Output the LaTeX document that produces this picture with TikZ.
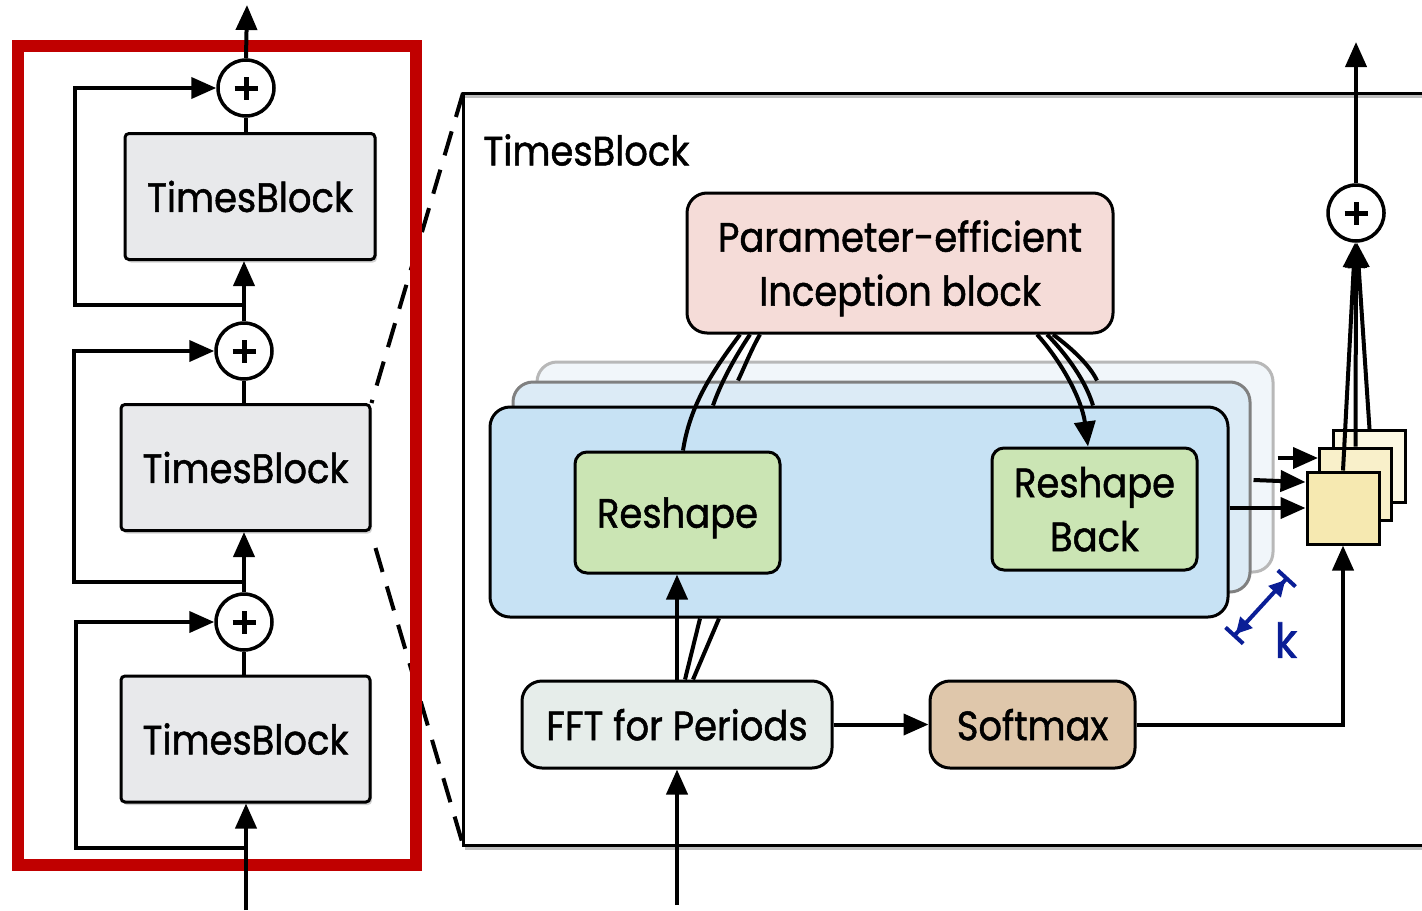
\documentclass[tikz,border=0pt]{standalone}
\usepackage{fontspec}
\setmainfont{Poppins}[FakeStretch=0.9,FakeBold=1.2]
\usetikzlibrary{arrows.meta,calc,shadows}
\definecolor{redc}{HTML}{C00000}
\definecolor{tbgray}{HTML}{E8E9EB}
\definecolor{pinkc}{HTML}{F5DCD8}
\definecolor{blueA}{HTML}{C7E2F4}
\definecolor{blueB}{HTML}{DCEBF6}
\definecolor{blueC}{HTML}{F1F6FA}
\definecolor{greenc}{HTML}{CBE5B4}
\definecolor{fftc}{HTML}{E6EDEA}
\definecolor{softc}{HTML}{DFC7AB}
\definecolor{sqA}{HTML}{F6E9B1}
\definecolor{sqB}{HTML}{F9F0CA}
\definecolor{sqC}{HTML}{FCF8E3}
\definecolor{navyk}{HTML}{0A1E96}
\newcommand\fs{\fontsize{20.5}{27}\selectfont}
\tikzset{
  arr/.style={-{Triangle[length=12.5pt,width=10.5pt]}, line width=2pt},
  ln/.style={line width=2pt},
  tbbox/.style={draw, line width=1.5pt, fill=tbgray, rounded corners=2pt, minimum height=63pt, inner sep=0pt,
    drop shadow={opacity=0.35, shadow xshift=1pt, shadow yshift=-1.5pt}, font=\fs},
  plusc/.style={circle, draw, line width=1.75pt, fill=white, minimum size=28pt, inner sep=0pt,
    path picture={
      \draw[line width=2.5pt] ([xshift=-5.75pt]path picture bounding box.center) -- ([xshift=5.75pt]path picture bounding box.center);
      \draw[line width=2.5pt] ([yshift=-5.75pt]path picture bounding box.center) -- ([yshift=5.75pt]path picture bounding box.center);}},
  blk/.style={rounded corners=10pt, line width=1.5pt, inner sep=0pt, minimum height=105pt},
  rbox/.style={draw, line width=1.5pt, rounded corners=#1, inner sep=0pt, font=\fs, align=center, text depth=0pt},
  sqr/.style={draw, line width=1.5pt, minimum size=36pt, inner sep=0pt},
  dsh/.style={line width=2pt, dash pattern=on 12.5pt off 7.5pt},
}
\begin{document}
\begin{tikzpicture}[x=0.5pt,y=-0.5pt]
\useasboundingbox (0,0) rectangle (1422,910);

% ---------- right big TimesBlock frame ----------
\coordinate (bbtl) at (463,93);
\coordinate (bbbl) at (463,845);
\coordinate (bbtr) at (1422,93);
\coordinate (bbbr) at (1422,845);
\draw[line width=1.5pt, black!25] ($(bbtr)+(0,3)$) -- ($(bbtl)+(2,3)$);
\draw[line width=1.5pt, black!25] ($(bbbl)+(2,3)$) -- ($(bbbr)+(0,3)$);
\draw[line width=1.5pt] (bbtr) -- (bbtl) -- (bbbl) -- (bbbr);
\node[anchor=west, font=\fs, inner sep=0pt] (title) at (483,150) {TimesBlock};

% ---------- left column ----------
\node[tbbox, minimum width=125pt] (tb1) at (250,196.5) {TimesBlock};
\node[tbbox, minimum width=124.5pt] (tb2) at (245.5,467.5) {TimesBlock};
\node[tbbox, minimum width=124.5pt] (tb3) at (245.5,739) {TimesBlock};

% dashed zoom lines
\draw[dsh] (bbtl) -- (tb2.north east);
\draw[dsh] ($(tb2.south east)+(4,16)$) -- (bbbl);

% red frame
\node[draw=redc, line width=6pt, minimum width=199pt, minimum height=409.75pt, inner sep=0pt] (frame) at (217,455.25) {};

\node[plusc] (p1) at (246,88) {};
\node[plusc] (p2) at (244,351) {};
\node[plusc] (p3) at (244,622) {};
\coordinate (out1) at (247,5);
\coordinate (in1) at (246,910);
\coordinate (j3) at (246,848);
\coordinate (j2) at (246,582);
\coordinate (j1) at (246,305);

\draw[arr] (in1) -- (in1 |- tb3.south);
\draw[arr] (j3) -- ++(-170,0) |- (p3.west);
\draw[ln] (p3.south) -- (p3.south |- tb3.north);
\draw[arr] (p3.north) -- (p3.north |- tb2.south);
\draw[arr] (j2) -- ++(-172,0) |- (p2.west);
\draw[ln] (p2.south) -- (p2.south |- tb2.north);
\draw[arr] (p2.north) -- (p2.north |- tb1.south);
\draw[arr] (j1) -- ++(-171,0) |- (p1.west);
\draw[ln] (p1.south) -- (p1.south |- tb1.north);
\draw[arr] (p1.north) -- (out1);

% ---------- inside the big block ----------
\node[rbox=10pt, fill=pinkc, minimum width=213pt, minimum height=70pt] (inc) at (900,263)
  {Parameter-efficient\\Inception block};

\node[blk, draw=black!28, fill=blueC, minimum width=368pt] (back) at (905,467) {};
\node[blk, draw=black!50, fill=blueB, minimum width=368.5pt] (mid) at (881.5,487) {};
\node[blk, draw=black, fill=blueA, minimum width=369pt] (front) at (859,512) {};

\node[rbox=6pt, fill=greenc, minimum width=102.5pt, minimum height=60.5pt] (rs) at (677.5,512.5) {Reshape};
\node[rbox=6pt, fill=greenc, minimum width=102.5pt, minimum height=61pt] (rsb) at (1094.5,509) {Reshape\\Back};

\node[rbox=10pt, fill=fftc, minimum width=155pt, minimum height=43.5pt] (fft) at (677,724.5) {FFT for Periods};
\node[rbox=10pt, fill=softc, minimum width=102.5pt, minimum height=43.5pt] (sm) at (1032.5,724.5) {Softmax};

% curves from inception block
\draw[ln] ($(inc.south)+(-160,0)$) .. controls (712,372) and (690,405) .. ($(rs.north)+(5.5,0)$);
\draw[ln] ($(inc.south)+(-150,0)$) .. controls (733,360) and (720,385) .. ($(front.north)+(-146,0)$);
\draw[ln] ($(inc.south)+(-140,0)$) .. controls (752,348) and (744,368) .. ($(mid.north)+(-143.5,0)$);
\draw[arr] ($(inc.south)+(137,0)$) .. controls (1062,362) and (1082,400) .. ($(rsb.north)+(-6.5,0)$);
\draw[ln] ($(inc.south)+(147,0)$) .. controls (1068,356) and (1086,382) .. ($(front.north)+(234,0)$);
\draw[ln] ($(inc.south)+(153,0)$) .. controls (1074,350) and (1090,366) .. ($(mid.north)+(215.5,0)$);

% FFT connections
\coordinate (in2) at (677,905);
\draw[arr] (in2) -- (fft.south);
\draw[arr] (fft.north) -- (fft.north |- rs.south);
\draw[ln] ($(fft.north)+(8,0)$) -- ($(front.south)+(-159,0)$);
\draw[ln] ($(fft.north)+(16,0)$) -- ($(front.south)+(-140,0)$);
\draw[arr] (fft.east) -- (sm.west);

% squares
\node[sqr, fill=sqC] (sq3) at (1369.5,466.5) {};
\node[sqr, fill=sqB] (sq2) at (1355.5,484) {};
\node[sqr, fill=sqA] (sq1) at (1343,508) {};

\draw[arr] (sm.east) -| (sq1.south);
\draw[arr] (front.east |- sq1.west) -- (sq1.west);
\draw[arr] ($(mid.east)+(2,-7)$) -- ($(sq1.west)+(0,-26)$);
\draw[arr] ($(back.east)+(3,-9)$) -- ($(sq2.west)+(0,-26)$);

% sum circle on the right
\node[plusc] (pr) at (1356,213) {};
\coordinate (out2) at (1356,42);
\draw[arr] (sq1.north) -- ($(pr.south)+(-1,0)$);
\draw[arr] (sq2.north) -- (pr.south);
\draw[arr] (sq3.north) -- ($(pr.south)+(1,0)$);
\draw[arr] (pr.north) -- (out2);

% k dimension
\coordinate (k1) at (1233,637);
\coordinate (k2) at (1288,577);
\draw[navyk, line width=2pt, {Bar[width=12pt]Triangle[length=8pt,width=8pt]}-{Triangle[length=8pt,width=8pt]Bar[width=12pt]}] (k1) -- (k2);
\node[navyk, font=\fontsize{24}{28}\selectfont, inner sep=0pt] (klab) at (1286,640) {k};
\end{tikzpicture}
\end{document}
